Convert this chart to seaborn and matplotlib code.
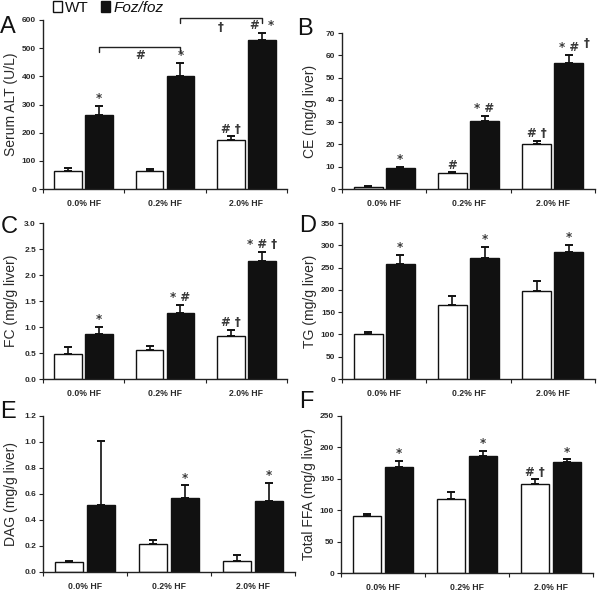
import numpy as np
import pandas as pd
import matplotlib
matplotlib.use("Agg")
import matplotlib.pyplot as plt
import seaborn as sns
from matplotlib.patches import Patch

sns.set_theme(style="white")
plt.rcParams['font.family'] = ['Liberation Sans', 'DejaVu Sans']

groups = ["0.0% HF", "0.2% HF", "2.0% HF"]
genotypes = ["WT", "Foz/foz"]

alt_wt = [65, 65, 175]
alt_wt_err = [9, 6, 12]
alt_foz = [262, 402, 528]
alt_foz_err = [34, 45, 26]

ce_wt = [1.0, 7.0, 20.0]
ce_wt_err = [0.2, 0.5, 1.5]
ce_foz = [9.3, 30.7, 56.5]
ce_foz_err = [0.7, 2.1, 3.8]

fc_wt = [0.49, 0.55, 0.82]
fc_wt_err = [0.13, 0.09, 0.12]
fc_foz = [0.87, 1.27, 2.26]
fc_foz_err = [0.13, 0.16, 0.18]

tg_wt = [101, 167, 197]
tg_wt_err = [3.5, 19, 22]
tg_foz = [259, 271, 286]
tg_foz_err = [20, 26, 15]

dag_wt = [0.077, 0.218, 0.085]
dag_wt_err = [0.008, 0.031, 0.043]
dag_foz = [0.513, 0.572, 0.544]
dag_foz_err = [0.495, 0.095, 0.141]

ffa_wt = [90.4, 118.6, 141.5]
ffa_wt_err = [3.2, 10.4, 7.5]
ffa_foz = [168, 186, 177]
ffa_foz_err = [10.7, 8.7, 4]

panels = [
    dict(letter="A", ylabel="Serum ALT (U/L)", wt=alt_wt, wte=alt_wt_err, fz=alt_foz, fze=alt_foz_err,
         ymax=600, step=100, fmt="{:.0f}", wt_ann=["", "", "# \u2020"], fz_ann=["*", "*", "#  *"],
         box=(43, 287, 20, 189), lpos=(0, 33)),
    dict(letter="B", ylabel="CE (mg/g liver)", wt=ce_wt, wte=ce_wt_err, fz=ce_foz, fze=ce_foz_err,
         ymax=70, step=10, fmt="{:.0f}", wt_ann=["", "#", "# \u2020"], fz_ann=["*", "* #", "* #"],
         box=(342, 595, 33, 189), lpos=(297, 35)),
    dict(letter="C", ylabel="FC (mg/g liver)", wt=fc_wt, wte=fc_wt_err, fz=fc_foz, fze=fc_foz_err,
         ymax=3.0, step=0.5, fmt="{:.1f}", wt_ann=["", "", "# \u2020"], fz_ann=["*", "* #", "* # \u2020"],
         box=(43, 287, 223, 379), lpos=(1, 233)),
    dict(letter="D", ylabel="TG (mg/g liver)", wt=tg_wt, wte=tg_wt_err, fz=tg_foz, fze=tg_foz_err,
         ymax=350, step=50, fmt="{:.0f}", wt_ann=["", "", ""], fz_ann=["*", "*", "*"],
         box=(342, 595, 223, 379), lpos=(299, 232)),
    dict(letter="E", ylabel="DAG (mg/g liver)", wt=dag_wt, wte=dag_wt_err, fz=dag_foz, fze=dag_foz_err,
         ymax=1.2, step=0.2, fmt="{:.1f}", wt_ann=["", "", ""], fz_ann=["", "*", "*"],
         box=(43, 295, 416, 572), lpos=(0, 418)),
    dict(letter="F", ylabel="Total FFA (mg/g liver)", wt=ffa_wt, wte=ffa_wt_err, fz=ffa_foz, fze=ffa_foz_err,
         ymax=250, step=50, fmt="{:.0f}", wt_ann=["", "", "# \u2020"], fz_ann=["*", "*", "*"],
         box=(341, 593, 416, 573), lpos=(299, 408)),
]

W, H = 600, 596
fig = plt.figure(figsize=(6.0, 5.96), dpi=100)
fig.patch.set_facecolor("white")
txtc = "#2a2a2a"
annfont = dict(fontsize=8.5, fontweight="bold", family=["DejaVu Sans"], color="#3a3a3a")

for p in panels:
    l, r, t, b = p["box"]
    ax = fig.add_axes([l / W, 1 - b / H, (r - l) / W, (b - t) / H])
    df = pd.DataFrame({
        "group": groups * 2,
        "genotype": [genotypes[0]] * 3 + [genotypes[1]] * 3,
        "value": list(p["wt"]) + list(p["fz"]),
    })
    sns.barplot(data=df, x="group", y="value", hue="genotype", order=groups, hue_order=genotypes,
                palette={"WT": "white", "Foz/foz": "#111111"}, edgecolor="#111111", linewidth=1.0,
                width=0.76, gap=0.1, errorbar=None, legend=False, ax=ax)
    bar_conts = list(ax.containers)[:2]
    p["bars"] = bar_conts
    errs = [p["wte"], p["fze"]]
    anns = [p["wt_ann"], p["fz_ann"]]
    span = p["ymax"]
    for ci, cont in enumerate(bar_conts):
        xs = [bar.get_x() + bar.get_width() / 2 for bar in cont]
        hs = [bar.get_height() for bar in cont]
        ax.errorbar(xs, hs, yerr=[np.zeros(3), errs[ci]], fmt="none", ecolor="#111111",
                    elinewidth=1.2, capsize=2.8, capthick=1.4, zorder=3)
        for x, h, e, a in zip(xs, hs, errs[ci], anns[ci]):
            if a:
                ax.text(x, h + e + span * 0.004, a, ha="center", va="bottom", clip_on=False, **annfont)
    ax.set_xlim(-0.5, 2.5)
    ax.set_ylim(0, p["ymax"])
    yt = np.arange(0, p["ymax"] + p["step"] / 2, p["step"])
    ax.set_yticks(yt)
    ax.set_yticklabels([p["fmt"].format(v) for v in yt])
    ax.set_xticks([-0.5, 0.5, 1.5, 2.5])
    ax.set_xticklabels([])
    ax.set_xticks([0, 1, 2], minor=True)
    ax.set_xticklabels(groups, minor=True)
    ax.tick_params(axis="x", which="minor", length=0, labelsize=6.2, labelcolor=txtc, pad=7.5)
    ax.tick_params(axis="x", which="major", length=3, width=0.8, direction="out", color="#222222",
                   bottom=True)
    ax.tick_params(axis="y", length=3, width=0.8, direction="out", labelsize=6, labelcolor=txtc,
                   color="#222222", pad=2, left=True)
    for lab in ax.get_xticklabels(minor=True) + ax.get_yticklabels():
        lab.set_fontweight("bold")
    ax.set_xlabel("")
    ax.set_ylabel(p["ylabel"], fontsize=10, color=txtc)
    ax.yaxis.set_label_coords(-25 / (r - l), 0.5)
    for s in ["top", "right"]:
        ax.spines[s].set_visible(False)
    for s in ["left", "bottom"]:
        ax.spines[s].set_color("#222222")
        ax.spines[s].set_linewidth(1.0)
    lx, ly = p["lpos"]
    fig.text(lx / W, 1 - ly / H, p["letter"], fontsize=17, color="#111111",
             ha="left", va="baseline")
    p["ax"] = ax

# panel A brackets and extra dagger in B
axA = panels[0]["ax"]
fz_x = [bar.get_x() + bar.get_width() / 2 for bar in panels[0]["bars"][1]]
for (i0, i1, yb, lab) in [(0, 1, 505, "#"), (1, 2, 606, "\u2020")]:
    x0, x1 = fz_x[i0], fz_x[i1]
    axA.plot([x0, x0, x1, x1], [yb - 17, yb, yb, yb - 17], color="#222222", lw=1.0, clip_on=False)
    axA.text((x0 + x1) / 2, yb - 8, lab, ha="center", va="top", clip_on=False, **annfont)

axB = panels[1]["ax"]
barB = panels[1]["bars"][1][2]
axB.text(barB.get_x() + barB.get_width() * 1.0, ce_foz[2] + ce_foz_err[2] + 2.2, "\u2020",
         ha="left", va="bottom", clip_on=False, **annfont)

handles = [Patch(facecolor="white", edgecolor="#111111", linewidth=1.0),
           Patch(facecolor="#111111", edgecolor="#111111")]
leg = fig.legend(handles, ["WT", "Foz/foz"], loc="upper left", bbox_to_anchor=(50 / W, 1 + 2 / H),
                 frameon=False, ncol=2, fontsize=11, handlelength=0.6, handleheight=0.7,
                 handletextpad=0.2, columnspacing=0.8, borderaxespad=0.0, borderpad=0.2)
leg.get_texts()[1].set_style("italic")
for tx in leg.get_texts():
    tx.set_color("#111111")

fig.savefig("out.png", dpi=100, facecolor="white")
